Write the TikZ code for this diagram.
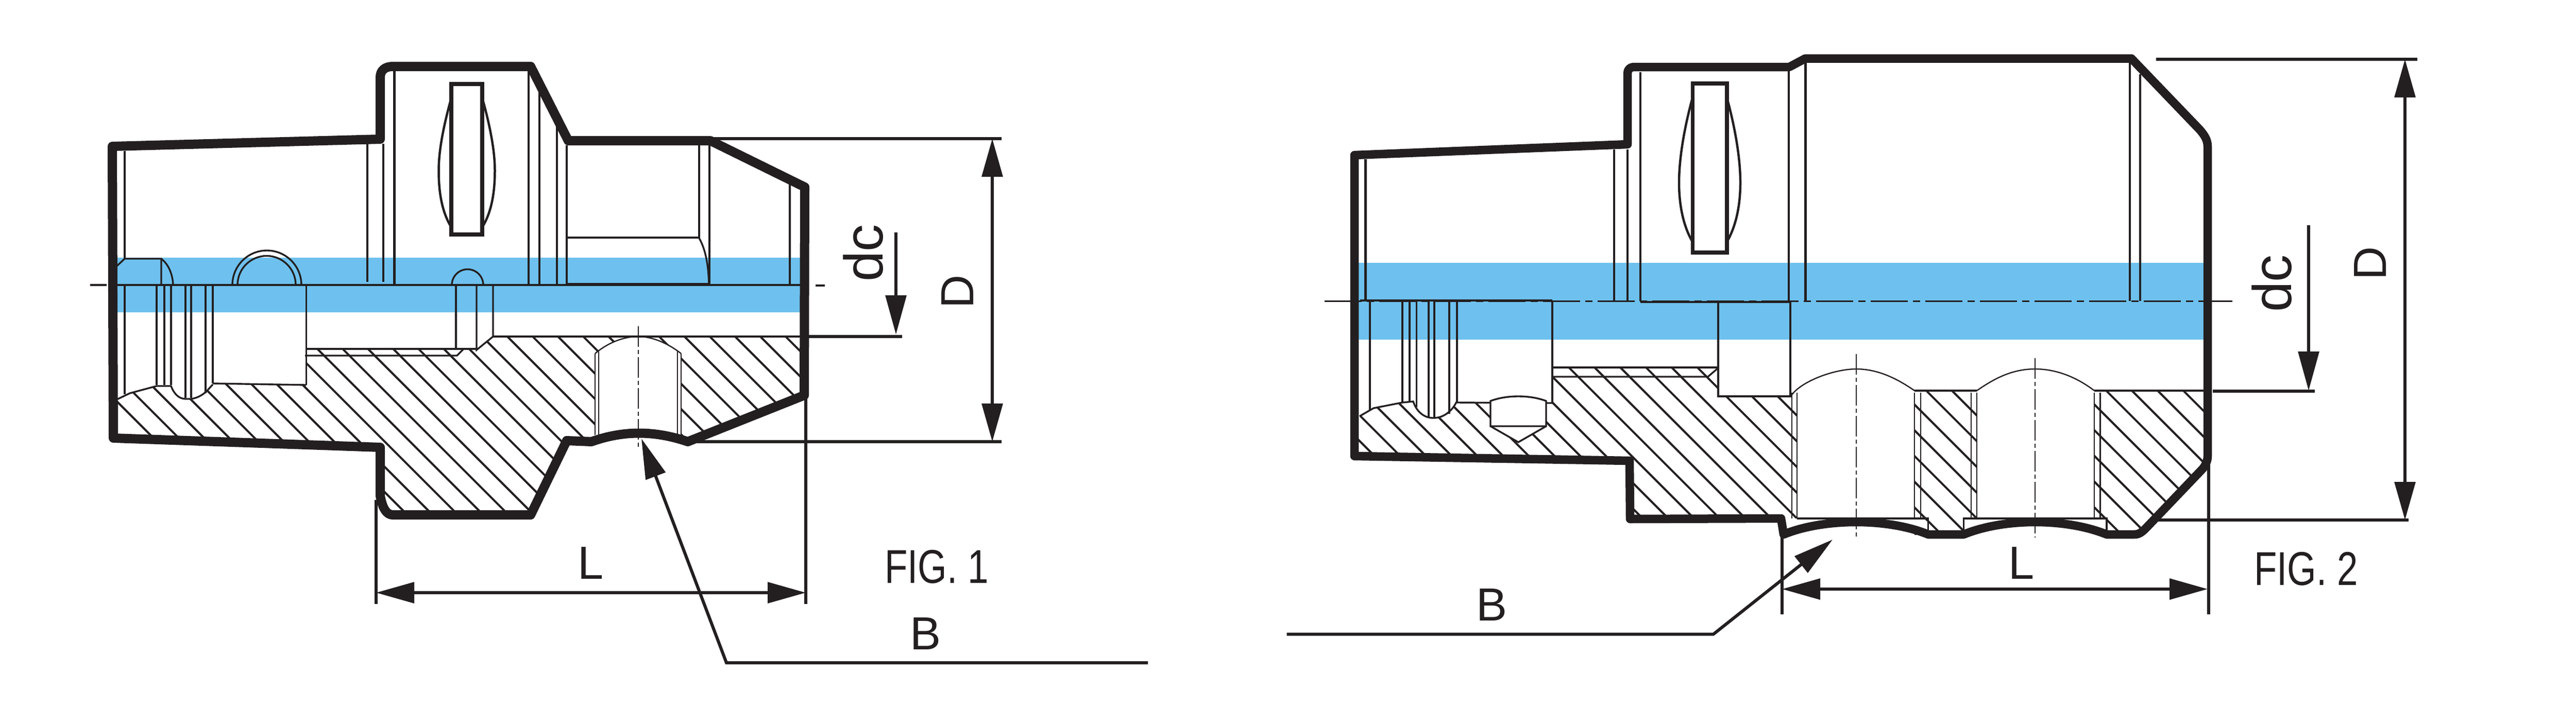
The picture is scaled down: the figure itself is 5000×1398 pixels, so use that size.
\documentclass[tikz,border=0pt]{standalone}
\usepackage{fontspec}
\setmainfont{Liberation Sans}
\newfontfamily\condfont[FakeStretch=0.79]{Liberation Sans}
\usetikzlibrary{arrows.meta}
\definecolor{ink}{HTML}{231F20}
\definecolor{band}{HTML}{6EC1EE}
\tikzset{
  outline/.style={draw=ink,line width=18pt,line join=round,line cap=round},
  outlinetwo/.style={draw=ink,line width=16.5pt,line join=round,line cap=round},
  thin/.style={draw=ink,line width=3.4pt},
  hair/.style={draw=ink,line width=2.4pt},
  med/.style={draw=ink,line width=4.6pt},
  hatchline/.style={draw=ink,line width=4pt},
  dim/.style={draw=ink,line width=6pt},
  dimtip/.style={dim,{Triangle[length=74pt,width=40pt]}-{Triangle[length=74pt,width=40pt]}},
  endtip/.style={dim,-{Triangle[length=76pt,width=40pt]}},
  axis/.style={draw=ink,line width=3pt,dash pattern=on 72pt off 10pt on 14pt off 10pt},
  holeaxis/.style={draw=ink,line width=2pt,dash pattern=on 40pt off 6pt on 8pt off 6pt},
  lbl/.style={inner sep=0pt,text=ink,font=\fontsize{90}{92}\selectfont},
  lblbig/.style={inner sep=0pt,text=ink,font=\fontsize{106}{108}\selectfont},
  figlbl/.style={inner sep=0pt,text=ink,font=\condfont\fontsize{92}{94}\selectfont},
}
\begin{document}
\begin{tikzpicture}[x=1pt,y=-1pt]
\useasboundingbox (0,0) rectangle (5000,1398);
\fill[white] (0,0) rectangle (5000,1398);

% ================= FIG 1 =================
\fill[band] (225,500) rectangle (1555,606);
\begin{scope}
\clip (1553,653) -- (1553,767) -- (1335,857) -- (1322,853) -- (1322,686)
  .. controls (1295,665) and (1265,653) .. (1239,653)
  .. controls (1210,653) and (1180,665) .. (1155,686)
  -- (1155,850) -- (1148,857) -- (1100,855) -- (1030,999) -- (762,999) -- (738,962)
  -- (738,868) -- (220,850) -- (227,775) -- (252,763) -- (304,749) -- (332,749)
  .. controls (338,765) and (348,774) .. (360,774) -- (371,774)
  .. controls (385,772) and (395,765) .. (402,758) -- (413,746) -- (594,747) -- (594,677)
  -- (925,679) -- (957,653) -- cycle;
\foreach \k in {0,...,29}{
  \pgfmathsetmacro{\c}{-552+49.1*\k}
  \draw[hatchline] ({\c+600},600) -- ({\c+1100},1100);
}
\end{scope}
% upper thin lines
\draw[med] (242,293) -- (242,502);
\draw[med] (242,553) -- (242,765);
\draw[thin] (227,516) -- (242,502) -- (313,502) -- (313,553);
\draw[thin] (313,502) .. controls (326,512) and (335,530) .. (336,553);
\draw[thin] (451,553) arc (180:360:67);
\draw[thin] (461,553) arc (180:360:56.5);
\draw[thin] (227,553) -- (1553,553);
\draw[med] (713,279) -- (713,547);
\draw[med] (744,279) -- (744,547);
\draw[med] (765.5,138) -- (765.5,553);
\draw[med] (1026,138) -- (1026,553);
\draw[med] (1047,175) -- (1047,553);
\draw[med] (1081,245) -- (1081,553);
\draw[thin] (1100,282) -- (1100,553);
\draw[med] (1357,282) -- (1357,462);
\draw[thin] (1377,282) -- (1377,552);
\draw[med] (1100,461) -- (1357,461);
\draw[thin] (1357,462) .. controls (1370,485) and (1375,515) .. (1376,552);
\draw[draw=ink,line width=5pt] (1100,551) -- (1377,551);
\draw[thin] (1533,356) -- (1533,554);
% flat + lens
\draw[draw=ink,line width=7.5pt] (876,163) rectangle (936,455);
\draw[draw=ink,line width=4.5pt] (876,190) .. controls (862,240) and (851.5,290) .. (851.5,331) .. controls (851.5,380) and (860,415) .. (876,441);
\draw[draw=ink,line width=4.5pt] (936,190) .. controls (950,240) and (960.5,290) .. (960.5,331) .. controls (960.5,380) and (952,415) .. (936,441);
% bore lines
\draw[thin] (304,553) -- (304,747);
\draw[thin] (319,553) -- (319,747);
\draw[med] (332,553) -- (332,747);
\draw[med] (360,553) -- (360,772);
\draw[thin] (371,553) -- (371,772);
\draw[med] (399,553) -- (399,763);
\draw[thin] (413,553) -- (413,744);
\draw[thin] (594.5,553) -- (594.5,747);
\draw[thin] (413,744) -- (594.5,747);
\draw[thin] (227,775) -- (252,763) -- (304,749) -- (332,749)
  .. controls (338,765) and (348,774) .. (360,774) -- (371,774)
  .. controls (385,772) and (395,765) .. (402,758) -- (413,746);
\draw[thin] (594,677) -- (925,677);
\draw[thin] (592,690) -- (887,690) -- (899,678);
\draw[thin] (885,553) -- (885,677);
\draw[thin] (925,553) -- (925,679) -- (957,653) -- (957,553);
\draw[thin] (877,553) arc (180:360:30.5);
\draw[thin] (957,653) -- (1553,653);
% hole
\draw[hair] (1155,686) -- (1155,844);
\draw[hair] (1162,682) -- (1162,844);
\draw[hair] (1315,682) -- (1315,844);
\draw[hair] (1322,686) -- (1322,844);
\draw[hair] (1155,686) .. controls (1180,665) and (1210,653) .. (1239,653) .. controls (1265,653) and (1295,665) .. (1322,686);
\draw[holeaxis] (1239,633) -- (1239,871);
\draw[thin] (175,553) -- (207,553);
\draw[thin] (1583,554) -- (1601,554);
% outline
\draw[outline] (218,284) -- (738,270) -- (738,150) .. controls (738,136) and (748,129) .. (762,129)
  -- (1030,129) -- (1103,273) -- (1379,273) -- (1562,363) -- (1561,767) -- (1335,857)
  .. controls (1270,835) and (1210,835) .. (1148,857) -- (1100,855) -- (1030,999) -- (762,999)
  .. controls (750,999) and (742,985) .. (738,962) -- (738,868) -- (220,850) -- cycle;
% dimensions
\draw[dim] (1382,269) -- (1944,269);
\draw[dim] (1335,857) -- (1944,857);
\draw[dimtip] (1926,269) -- (1926,857);
\draw[endtip] (1739,451) -- (1739,649);
\draw[dim] (1570,653) -- (1751,653);
\draw[dim] (730,970) -- (730,1172);
\draw[dim] (1564,767) -- (1564,1172);
\draw[dimtip] (730,1150) -- (1564,1150);
\node[lbl,rotate=90] (D1) at (1859,566) {D};
\node[lblbig,rotate=90] (dc1) at (1676,491) {dc};
\node[lbl] (L1) at (1147,1093) {L};
\node[figlbl] (F1) at (1818,1100) {FIG. 1};
\node[lbl] (B1) at (1796,1230) {B};
\coordinate (b1tip) at (1245,851);
\draw[dim,{Triangle[length=78pt,width=40pt]}-] (b1tip) -- (1410,1286) -- (2228,1286);

% ================= FIG 2 =================
\fill[band] (2637,510) rectangle (4279,659);
\begin{scope}
\clip (2639,807.5) -- (2666,792) -- (2722,781) -- (2743,779)
  .. controls (2750,800) and (2765,811) .. (2782,811) .. controls (2802,811) and (2818,798) .. (2827,781)
  -- (2893,781) -- (2893,827) -- (2947,858) -- (3001,827) -- (3001,782) -- (3013,782)
  -- (3013,713) -- (3335,714) -- (3335,769) -- (3488,769) -- (3488,1006) -- (3457,1006)
  -- (3164,1007) -- (3163,894) -- (2629,885) -- cycle;
\foreach \k in {-3,...,33}{
  \pgfmathsetmacro{\c}{1883+49.9*\k}
  \draw[hatchline] ({\c+600},600) -- ({\c+1100},1100);
}
\end{scope}
\begin{scope}
\clip (3716,758) -- (3837,758) -- (3837,1037) -- (3716,1037) -- cycle;
\foreach \k in {16,...,24}{
  \pgfmathsetmacro{\c}{1883+49.9*\k}
  \draw[hatchline] ({\c+600},600) -- ({\c+1100},1100);
}
\end{scope}
\begin{scope}
\clip (4065,758) -- (4277,758) -- (4285,890) -- (4165,1025) -- (4142,1037) -- (4089,1037) -- (4089,1006) -- (4065,1006) -- cycle;
\foreach \k in {23,...,33}{
  \pgfmathsetmacro{\c}{1883+49.9*\k}
  \draw[hatchline] ({\c+600},600) -- ({\c+1100},1100);
}
\end{scope}
% thin lines upper
\draw[med] (2650.5,309) -- (2650.5,584);
\draw[med] (3133,290) -- (3133,584);
\draw[med] (3159,290) -- (3159,584);
\draw[med] (3184,140) -- (3184,584);
\draw[med] (3472,135) -- (3472,584);
\draw[med] (3504.5,122) -- (3504.5,584);
\draw[thin] (4134,121) -- (4134,584);
\draw[med] (4154,144) -- (4154,584);
\draw[draw=ink,line width=4pt] (2640,583) -- (3013,583);
\draw[axis] (2571,584) -- (4333,584);
\draw[thin] (3184,586) -- (3335,586);
\draw[thin] (3335,586) rectangle (3475,769);
\draw[thin] (2659,584) -- (2659,795);
% flat + lens
\draw[draw=ink,line width=7.5pt] (3285.6,162) rectangle (3352,490);
\draw[draw=ink,line width=4.5pt] (3285,190) .. controls (3270,245) and (3259,305) .. (3259,354.5) .. controls (3259,400) and (3268,440) .. (3285,469);
\draw[draw=ink,line width=4.5pt] (3352,190) .. controls (3367,245) and (3378,305) .. (3378,354.5) .. controls (3378,400) and (3369,440) .. (3352,469);
% bore
\draw[thin] (2722,584) -- (2722,781);
\draw[thin] (2736,584) -- (2736,780);
\draw[thin] (2749.5,584) -- (2749.5,790);
\draw[thin] (2773,584) -- (2773,810);
\draw[thin] (2784,584) -- (2784,811);
\draw[thin] (2813,584) -- (2813,803);
\draw[thin] (2828,584) -- (2828,780);
\draw[thin] (3013,584) -- (3013,783);
\draw[thin] (2827,781) -- (3013,782);
\draw[thin] (2639,807.5) -- (2666,792) -- (2722,781) -- (2743,779)
  .. controls (2750,800) and (2765,811) .. (2782,811) .. controls (2802,811) and (2818,798) .. (2827,780);
\draw[thin,fill=white] (2893,827) -- (2893,778) .. controls (2925,766) and (2969,766) .. (3001,778) -- (3001,827) -- cycle;
\draw[thin] (2893,827) -- (2947,858) -- (3001,827);
\draw[thin] (3013,713) -- (3335,713);
\draw[thin] (3013,731) -- (3315,731) -- (3335,714);
% holes
\foreach \hx in {3478,3488,3716,3728,3826,3837,4065,4076.5}{
  \draw[hair] (\hx,762) -- (\hx,1006);
}
\draw[hair] (3476.5,768) .. controls (3495,740) and (3560,716) .. (3603,716) .. controls (3650,716) and (3690,740) .. (3716,758);
\draw[hair] (3837,758) .. controls (3870,735) and (3905,716) .. (3950,716) .. controls (3995,716) and (4035,735) .. (4065,758);
\draw[thin] (3716,758) -- (3837,758);
\draw[thin] (4065,758) -- (4277,758);
\draw[thin] (3488,1006) -- (3742.6,1006) -- (3742.6,1030);
\draw[thin] (3811.5,1030) -- (3811.5,1006) -- (4089,1006) -- (4089,1030);
\draw[holeaxis] (3603,687) -- (3603,1043);
\draw[holeaxis] (3950,695) -- (3950,1043);
% outline
\draw[outlinetwo] (2629,301) -- (3159,280) -- (3159,142) .. controls (3159,135) and (3164,130) .. (3171,130)
  -- (3473,130) -- (3504,113.5) -- (4137,113.5) -- (4270,252) .. controls (4280,264) and (4285,272) .. (4285,285)
  -- (4285,885) .. controls (4285,895) and (4280,905) .. (4273,912) -- (4165,1025) .. controls (4155,1035) and (4150,1037) .. (4142,1037)
  -- (4089,1037) .. controls (4010,1005) and (3890,1005) .. (3811.5,1037) -- (3742.6,1037)
  .. controls (3665,1005) and (3540,1005) .. (3462,1037) -- (3457,1006) -- (3164,1007) -- (3163,894) -- (2629,885) -- cycle;
% dimensions
\draw[dim] (4185,115) -- (4692,115);
\draw[dim] (4180,1009) -- (4675,1009);
\draw[dimtip] (4668,115) -- (4668,1009);
\draw[endtip] (4481,437) -- (4481,758);
\draw[dim] (4295,759) -- (4493,759);
\draw[dim] (3459,1037) -- (3459,1192);
\draw[dim] (4287,890) -- (4287,1192);
\draw[dimtip] (3459,1143) -- (4285,1143);
\node[lbl,rotate=90] (D2) at (4600,511) {D};
\node[lblbig,rotate=90] (dc2) at (4410,550) {dc};
\node[lbl] (L2) at (3923,1093) {L};
\node[figlbl] (F2) at (4476,1104) {FIG. 2};
\node[lbl] (B2) at (2895,1174) {B};
\coordinate (b2tip) at (3557,1047);
\draw[dim,{Triangle[length=78pt,width=40pt]}-] (b2tip) -- (3325.6,1230.6) -- (2497.5,1230.6);
\end{tikzpicture}
\end{document}
